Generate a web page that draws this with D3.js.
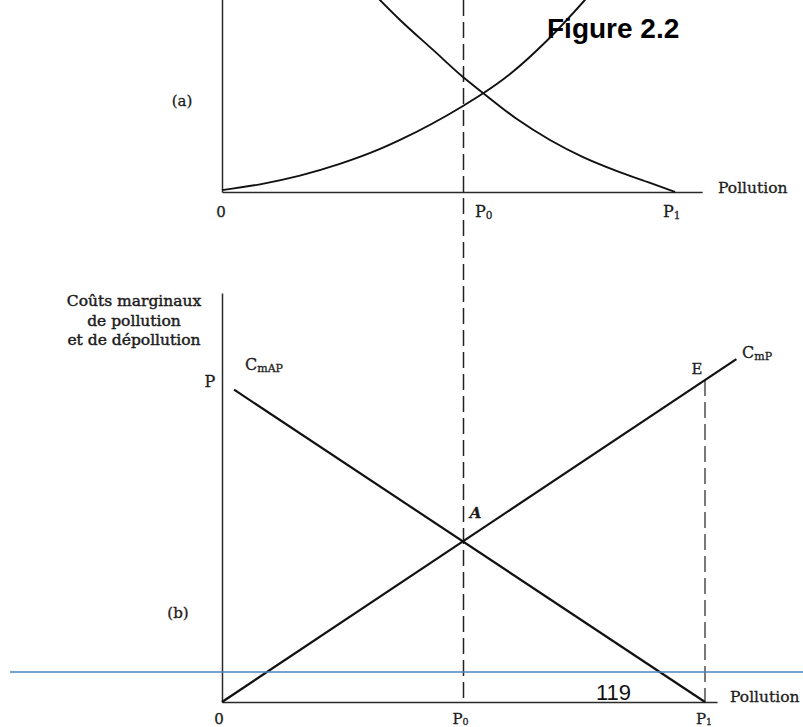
<!DOCTYPE html>
<html><head><meta charset="utf-8">
<script src="https://cdn.jsdelivr.net/npm/d3@7"></script>
<style>
html,body{margin:0;padding:0;background:#fff;}
svg{display:block;}
.serif{font-family:"DejaVu Serif",serif;fill:#1c1c1c;stroke:#1c1c1c;stroke-width:0.3px;}
</style></head>
<body>
<script>
// ---- Data ----
// Panel (a): x in % of P1, y in arbitrary units (0..100 = axis height)
const aIncreasingX = [0, 8.4, 17.2, 26.0, 34.9, 39.3, 53.2, 57.4, 63.6, 71.7, 80.1, 83.4];
const aIncreasingY = [1.0, 4.0, 8.5, 14.6, 22.4, 27.1, 44.8, 51.0, 61.5, 78.8, 100, 108.9];
const aDecreasingX = [32.7, 39.3, 46.6, 53.2, 57.4, 65.1, 72.4, 79.7, 87.2, 94.5, 100];
const aDecreasingY = [105.2, 89.6, 74.0, 59.9, 52.0, 38.0, 27.1, 18.2, 10.9, 4.7, 0];
const aP0 = 53.2, aP1 = 100;
// Panel (b): linear marginal cost curves
const bCmAPX = [2.5, 100];
const bCmAPY = [97, 0];
const bCmPX = [0, 106.5];
const bCmPY = [0, 106.5];
const bP0 = 50, bP1 = 100, bPrice = 100;
const titleLines = ["Coûts marginaux", "de pollution", "et de dépollution"];
const pageNumber = "119";

const W = 803, H = 727;
const svg = d3.select("body").append("svg").attr("width", W).attr("height", H);

// ---- scales ----
const xa = d3.scaleLinear().domain([0, 100]).range([222, 675]);
const ya = d3.scaleLinear().domain([0, 100]).range([192, 0]);
const xb = d3.scaleLinear().domain([0, 100]).range([222, 705]);
const yb = d3.scaleLinear().domain([0, 100]).range([702, 380]);

const axisColor = "#2a2a2a";
const dash = "16,6";

// dashed vertical line at P0 crossing both panels
svg.append("line").attr("x1", xb(bP0)).attr("x2", xb(bP0))
  .attr("y1", 0).attr("y2", yb(0))
  .attr("stroke", "#222").attr("stroke-width", 1.5).attr("stroke-dasharray", dash);
// dashed vertical at P1 in panel (b) from E down
svg.append("line").attr("x1", xb(bP1)).attr("x2", xb(bP1))
  .attr("y1", yb(bPrice)).attr("y2", yb(0))
  .attr("stroke", "#333").attr("stroke-width", 1.3).attr("stroke-dasharray", dash);

// ---- Panel (a) axes ----
const xaAxisScale = xa.copy().domain([0, 106]).range([xa(0), xa(106)]);
svg.append("g").attr("transform", `translate(0,${ya(0)})`)
  .call(d3.axisBottom(xaAxisScale).tickValues([]).tickSizeOuter(0))
  .call(g => g.select(".domain").attr("stroke", axisColor).attr("stroke-width", 1.5));
const yaAxisScale = ya.copy().domain([0, 110]).range([ya(0), ya(110)]);
svg.append("g").attr("transform", `translate(${xa(0)},0)`)
  .call(d3.axisLeft(yaAxisScale).tickValues([]).tickSizeOuter(0))
  .call(g => g.select(".domain").attr("stroke", axisColor).attr("stroke-width", 1.5));

const lineA = d3.line().x(d => xa(d[0])).y(d => ya(d[1])).curve(d3.curveMonotoneX);
svg.append("path").datum(d3.zip(aIncreasingX, aIncreasingY)).attr("d", lineA)
  .attr("fill", "none").attr("stroke", "#111").attr("stroke-width", 1.9);
svg.append("path").datum(d3.zip(aDecreasingX, aDecreasingY)).attr("d", lineA)
  .attr("fill", "none").attr("stroke", "#111").attr("stroke-width", 1.9);

// Panel (a) labels
svg.append("text").attr("class", "serif").attr("x", 182).attr("y", 106)
  .attr("text-anchor", "middle").attr("font-size", 15).text("(a)");
svg.append("text").attr("class", "serif").attr("x", 221).attr("y", 217)
  .attr("text-anchor", "middle").attr("font-size", 15).text("0");
function subLabel(x, y, main, sub, size, subSize, anchor, dy) {
  const t = svg.append("text").attr("class", "serif").attr("x", x).attr("y", y)
    .attr("font-size", size).attr("text-anchor", anchor || "start");
  t.append("tspan").text(main);
  t.append("tspan").attr("font-size", subSize).attr("dy", dy === undefined ? 2 : dy).text(sub);
  return t;
}
subLabel(xa(aP0) + 12, 217, "P", "0", 16, 10.5);
subLabel(xa(aP1) - 12, 217, "P", "1", 16, 10.5);
svg.append("text").attr("class", "serif").attr("x", 718).attr("y", 193)
  .attr("font-size", 15.5).text("Pollution");

// Figure title
svg.append("text").attr("x", 547).attr("y", 38)
  .attr("font-family", "Liberation Sans, Arial, sans-serif").attr("font-weight", "bold")
  .attr("font-size", 28).attr("fill", "#000").text("Figure 2.2");

// ---- Panel (b) axes ----
const xbAxisScale = xb.copy().domain([0, 102.5]).range([xb(0), xb(102.5)]);
svg.append("g").attr("transform", `translate(0,${yb(0)})`)
  .call(d3.axisBottom(xbAxisScale).tickValues([]).tickSizeOuter(0))
  .call(g => g.select(".domain").attr("stroke", axisColor).attr("stroke-width", 1.5));
const ybAxisScale = yb.copy().domain([0, 127]).range([yb(0), yb(127)]);
svg.append("g").attr("transform", `translate(${xb(0)},0)`)
  .call(d3.axisLeft(ybAxisScale).tickValues([]).tickSizeOuter(0))
  .call(g => g.select(".domain").attr("stroke", axisColor).attr("stroke-width", 1.5));

const lineB = d3.line().x(d => xb(d[0])).y(d => yb(d[1]));
svg.append("path").datum(d3.zip(bCmAPX, bCmAPY)).attr("d", lineB)
  .attr("fill", "none").attr("stroke", "#111").attr("stroke-width", 2.2);
svg.append("path").datum(d3.zip(bCmPX, bCmPY)).attr("d", lineB)
  .attr("fill", "none").attr("stroke", "#111").attr("stroke-width", 2.2);

// Panel (b) labels
titleLines.forEach((s, i) => {
  svg.append("text").attr("class", "serif").attr("x", 134).attr("y", 306 + i * 19.5)
    .attr("text-anchor", "middle").attr("font-size", 15.5)
    .style("stroke-width", "0.45px").text(s);
});
svg.append("text").attr("class", "serif").attr("x", 210).attr("y", 387)
  .attr("text-anchor", "middle").attr("font-size", 16).text("P");
subLabel(245, 370, "C", "mAP", 16, 11);
subLabel(742, 358, "C", "mP", 16, 11);
svg.append("text").attr("class", "serif").attr("x", 697).attr("y", 374)
  .attr("text-anchor", "middle").attr("font-size", 15).text("E");
svg.append("text").attr("class", "serif").attr("x", xb(bP0) + 12).attr("y", 518)
  .attr("text-anchor", "middle").attr("font-size", 15).attr("font-style", "italic")
  .attr("font-weight", "bold").text("A");
svg.append("text").attr("class", "serif").attr("x", 178).attr("y", 618)
  .attr("text-anchor", "middle").attr("font-size", 15).text("(b)");
svg.append("text").attr("class", "serif").attr("x", 219).attr("y", 724)
  .attr("text-anchor", "middle").attr("font-size", 15).text("0");
subLabel(xb(bP0) - 3, 724, "P", "0", 15, 9.5, "middle", 1);
subLabel(xb(bP1) - 1, 724, "P", "1", 15, 9.5, "middle", 1);
svg.append("text").attr("class", "serif").attr("x", 730).attr("y", 702)
  .attr("font-size", 15.5).text("Pollution");

// blue rule and page number
svg.append("line").attr("x1", 10).attr("x2", W).attr("y1", 672).attr("y2", 672)
  .attr("stroke", "#4a84c4").attr("stroke-width", 1.5);
svg.append("text").attr("x", 596).attr("y", 700)
  .attr("font-family", "Liberation Sans, Arial, sans-serif")
  .attr("font-size", 22).attr("fill", "#111").text(pageNumber);
</script>
</body></html>
